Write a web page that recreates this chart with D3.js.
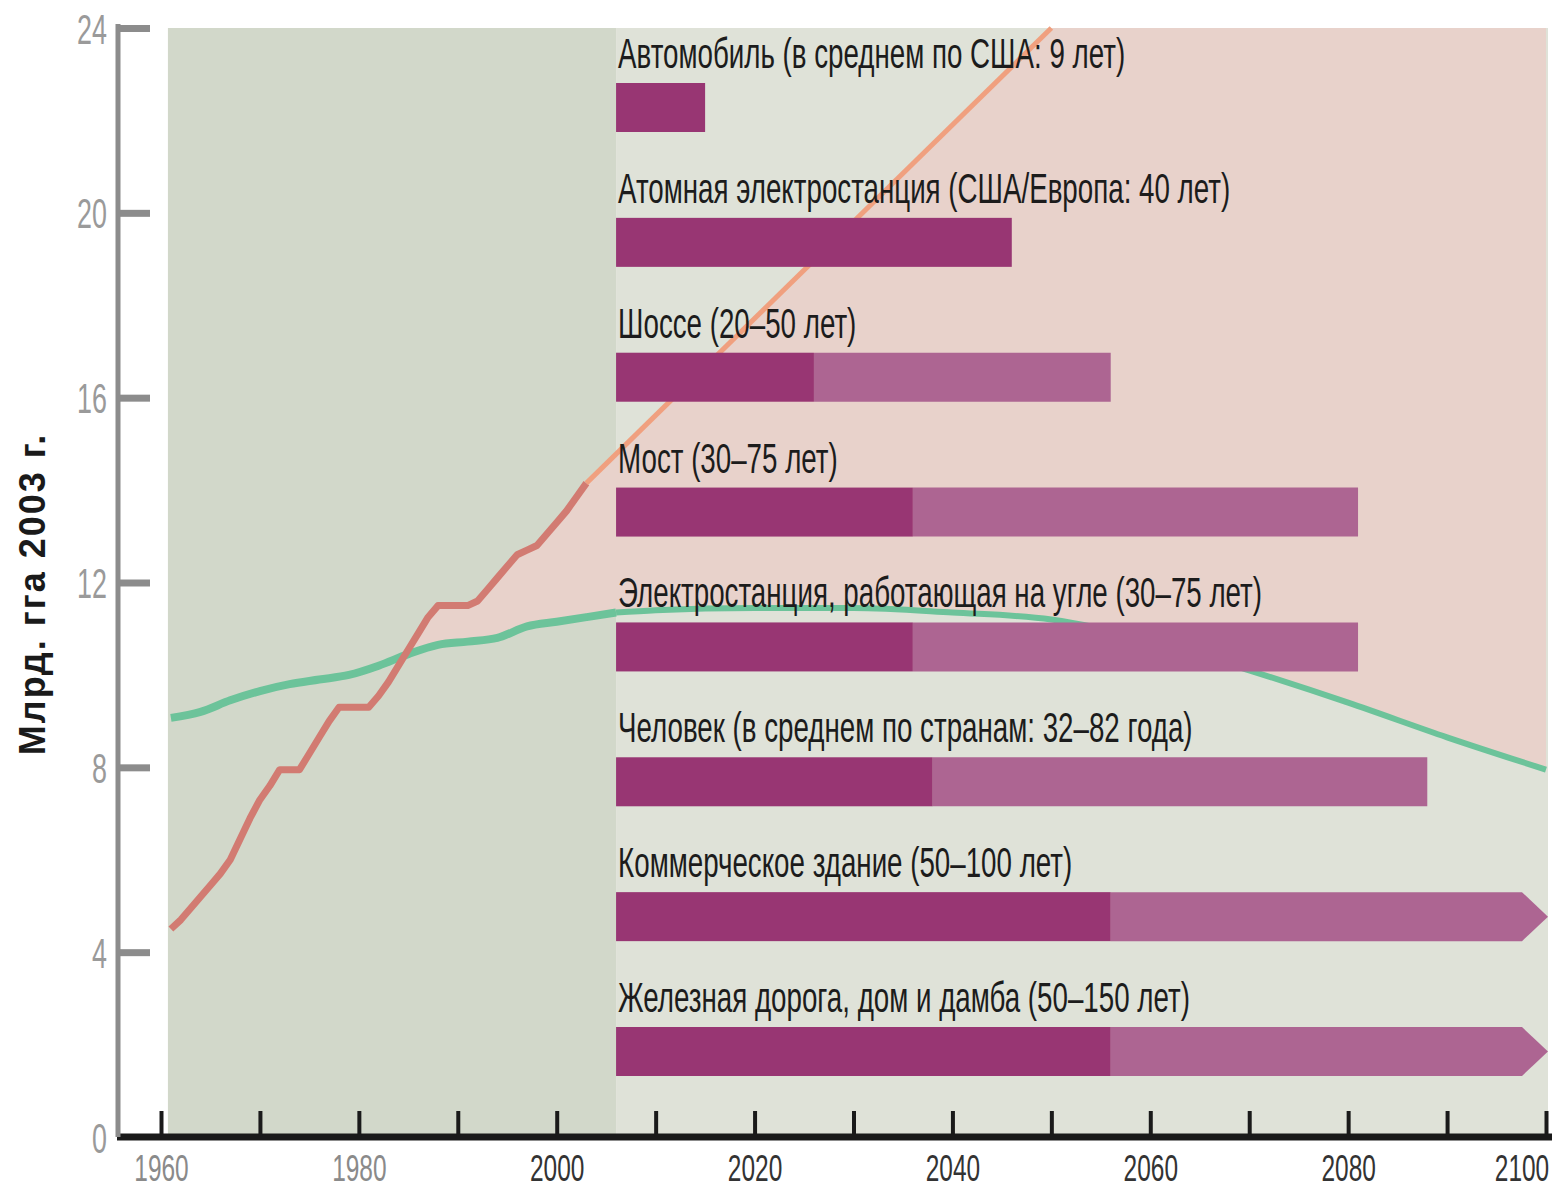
<!DOCTYPE html>
<html>
<head>
<meta charset="utf-8">
<script src="https://cdn.jsdelivr.net/npm/d3@7"></script>
<style>
    body { margin: 0; background: #fff; }
    svg { display: block; font-family: "Liberation Sans", Arial, sans-serif; }
</style>
</head>
<body>
<svg id="chart" width="1554" height="1190"></svg>
<script>
// Ecological footprint, 1961-2003 (bn gha)
const footprintYears = [1961, 1962, 1963, 1964, 1965, 1966, 1967, 1968, 1969, 1970, 1971, 1972, 1973, 1974, 1975,
    1976, 1977, 1978, 1979, 1980, 1981, 1982, 1983, 1984, 1985, 1986, 1987, 1988, 1989, 1990, 1991, 1992,
    1993, 1994, 1995, 1996, 1997, 1998, 1999, 2000, 2001, 2002, 2003];
const footprintValues = [4.5, 4.7, 4.95, 5.2, 5.45, 5.7, 6.0, 6.45, 6.9, 7.3, 7.6, 7.95, 7.95, 7.95, 8.3,
    8.65, 9.0, 9.3, 9.3, 9.3, 9.3, 9.55, 9.85, 10.2, 10.55, 10.9, 11.25, 11.5, 11.5, 11.5, 11.5, 11.6,
    11.85, 12.1, 12.35, 12.6, 12.7, 12.8, 13.05, 13.3, 13.55, 13.85, 14.15];

// Footprint projection (business as usual)
const projectionYears = [2003, 2050];
const projectionValues = [14.15, 24];

// Biocapacity
const bioHistYears = [1961, 1964, 1967, 1970, 1973, 1976, 1979, 1982, 1985, 1988, 1991, 1994, 1997, 2000, 2003, 2006];
const bioHistValues = [9.07, 9.2, 9.45, 9.65, 9.8, 9.9, 10.0, 10.2, 10.45, 10.65, 10.72, 10.8, 11.05, 11.15, 11.25, 11.35];
const bioProjYears = [2006, 2010, 2020, 2030, 2040, 2050, 2060, 2070, 2080, 2090, 2100];
const bioProjValues = [11.35, 11.4, 11.45, 11.45, 11.35, 11.2, 10.75, 10.1, 9.4, 8.65, 7.95];

// Lifetimes of assets
const barLabels = [
    "Автомобиль (в среднем по США: 9 лет)",
    "Атомная электростанция (США/Европа: 40 лет)",
    "Шоссе (20–50 лет)",
    "Мост (30–75 лет)",
    "Электростанция, работающая на угле (30–75 лет)",
    "Человек (в среднем по странам: 32–82 года)",
    "Коммерческое здание (50–100 лет)",
    "Железная дорога, дом и дамба (50–150 лет)"
];
const barMin = [9, 40, 20, 30, 30, 32, 50, 50];
const barMax = [9, 40, 50, 75, 75, 82, 100, 150];
const barStartYear = 2006;
const historyStartYear = 1960.7;

const xTicks = [1960, 1970, 1980, 1990, 2000, 2010, 2020, 2030, 2040, 2050, 2060, 2070, 2080, 2090, 2100];
const xLabels = [1960, 1980, 2000, 2020, 2040, 2060, 2080, 2100];
const yTicks = [0, 4, 8, 12, 16, 20, 24];
const yTitle = "Млрд. гга 2003 г.";

const svg = d3.select("#chart");

const x = d3.scaleLinear().domain([1960, 2100]).range([161, 1546]);
const y = d3.scaleLinear().domain([0, 24]).range([1137, 28]);

const zip = (xs, vs) => xs.map((d, i) => ({ year: d, value: vs[i] }));
const footprint = zip(footprintYears, footprintValues);
const projection = zip(projectionYears, projectionValues);
const bioHist = zip(bioHistYears, bioHistValues);
const bioProj = zip(bioProjYears, bioProjValues);

// backgrounds
svg.append("rect")
    .attr("x", x(historyStartYear)).attr("y", y(24))
    .attr("width", x(barStartYear) - x(historyStartYear))
    .attr("height", y(0) - y(24))
    .attr("fill", "#d2d8ca");

svg.append("rect")
    .attr("x", x(barStartYear)).attr("y", y(24))
    .attr("width", x(2100) + 2 - x(barStartYear))
    .attr("height", y(0) - y(24))
    .attr("fill", "#dfe2d8");

// overshoot area: below footprint and above biocapacity
const bioAll = bioHist.concat(bioProj.slice(1));
const fpAll = footprint.concat(projection.slice(1), [{ year: 2100, value: 24 }]);

const defs = svg.append("defs");
defs.append("clipPath").attr("id", "above-bio")
    .append("path")
    .attr("d", d3.area()
        .x(d => x(d.year))
        .y0(y(24))
        .y1(d => y(d.value))
        .curve(d3.curveMonotoneX)(bioAll));

svg.append("path")
    .attr("clip-path", "url(#above-bio)")
    .attr("fill", "#e8d2cb")
    .attr("d", d3.area()
        .x(d => x(d.year))
        .y0(y(0))
        .y1(d => y(d.value))(fpAll));

// lines
const line = d3.line().x(d => x(d.year)).y(d => y(d.value)).curve(d3.curveMonotoneX);

svg.append("path").datum(bioHist)
    .attr("fill", "none").attr("stroke", "#6cc39a").attr("stroke-width", 8)
    .attr("d", line);

svg.append("path").datum(bioProj)
    .attr("fill", "none").attr("stroke", "#6cc39a").attr("stroke-width", 6)
    .attr("d", line);

svg.append("path").datum(footprint)
    .attr("fill", "none").attr("stroke", "#d27b72").attr("stroke-width", 7)
    .attr("stroke-linejoin", "round")
    .attr("d", d3.line().x(d => x(d.year)).y(d => y(d.value)));

svg.append("path").datum(projection)
    .attr("fill", "none").attr("stroke", "#f0a07f").attr("stroke-width", 5)
    .attr("d", d3.line().x(d => x(d.year)).y(d => y(d.value)));

// bars
const rowTop = d3.scalePoint().domain(barLabels).range([83, 1027]);
const barH = 49;
const arrowW = 26;

const rows = svg.selectAll(".row")
    .data(barLabels.map((label, i) => ({ label, min: barMin[i], max: barMax[i] })))
    .join("g")
    .attr("class", "row");

// light part (range)
rows.filter(d => d.max > d.min)
    .append("path")
    .attr("fill", "#ad6592")
    .attr("d", d => {
        const top = rowTop(d.label);
        const x0 = x(barStartYear + d.min);
        if (barStartYear + d.max > 2100) {
            const x1 = x(2100) + 2;
            return `M${x0},${top}H${x1 - arrowW}L${x1},${top + barH / 2}L${x1 - arrowW},${top + barH}H${x0}Z`;
        }
        const x1 = x(barStartYear + d.max);
        return `M${x0},${top}H${x1}V${top + barH}H${x0}Z`;
    });

// dark part (minimum)
rows.append("rect")
    .attr("fill", "#983673")
    .attr("x", x(barStartYear))
    .attr("y", d => rowTop(d.label))
    .attr("width", d => x(barStartYear + d.min) - x(barStartYear))
    .attr("height", barH);

rows.append("text")
    .attr("transform", d => `translate(${x(barStartYear) + 2},${rowTop(d.label) - 15}) scale(0.66,1)`)
    .attr("font-size", 42)
    .attr("fill", "#1c1c1c")
    .text(d => d.label);

// x axis
svg.append("line")
    .attr("x1", 117).attr("x2", 1552)
    .attr("y1", y(0)).attr("y2", y(0))
    .attr("stroke", "#1a1a1a").attr("stroke-width", 7);

const xTickAxis = svg.append("g")
    .attr("transform", `translate(0,${y(0)})`)
    .call(d3.axisTop(x).tickValues(xTicks).tickSize(26).tickFormat(""));
xTickAxis.select(".domain").remove();
xTickAxis.selectAll("line").attr("stroke", "#1a1a1a").attr("stroke-width", 4);

const xLabelAxis = svg.append("g")
    .attr("transform", `translate(0,${y(0)})`)
    .call(d3.axisBottom(x).tickValues(xLabels).tickSize(0).tickPadding(0).tickFormat(d3.format("d")));
xLabelAxis.select(".domain").remove();
xLabelAxis.selectAll("text")
    .attr("y", 44).attr("dy", 0)
    .attr("x", d => d === 2100 ? 4 : 0)
    .attr("text-anchor", d => d === 2100 ? "end" : "middle")
    .attr("font-size", 36)
    .attr("font-family", "Liberation Sans, Arial, sans-serif")
    .attr("fill", d => d < 2000 ? "#8a8a8a" : "#333")
    .attr("transform", "scale(0.68,1)");

// y axis
svg.append("line")
    .attr("x1", 118).attr("x2", 118)
    .attr("y1", 24).attr("y2", y(0))
    .attr("stroke", "#8c8c8c").attr("stroke-width", 5);

const yTickAxis = svg.append("g")
    .attr("transform", "translate(118,0)")
    .call(d3.axisRight(y).tickValues(yTicks.filter(d => d > 0)).tickSize(32).tickFormat(""));
yTickAxis.select(".domain").remove();
yTickAxis.selectAll("line").attr("stroke", "#8c8c8c").attr("stroke-width", 7);

const yLabelAxis = svg.append("g")
    .attr("transform", "translate(107,0)")
    .call(d3.axisLeft(y).tickValues(yTicks).tickSize(0).tickPadding(0));
yLabelAxis.select(".domain").remove();
yLabelAxis.selectAll("text")
    .attr("x", 0).attr("dy", "0.36em")
    .attr("font-size", 42)
    .attr("font-family", "Liberation Sans, Arial, sans-serif")
    .attr("fill", "#9a9a9a")
    .attr("transform", "scale(0.64,1)");

svg.append("text")
    .attr("transform", `translate(45,${(430 + 758) / 2}) rotate(-90)`)
    .attr("text-anchor", "middle")
    .attr("font-size", 36)
    .attr("letter-spacing", 2)
    .attr("font-weight", "bold")
    .attr("fill", "#1a1a1a")
    .text(yTitle);
</script>
</body>
</html>
